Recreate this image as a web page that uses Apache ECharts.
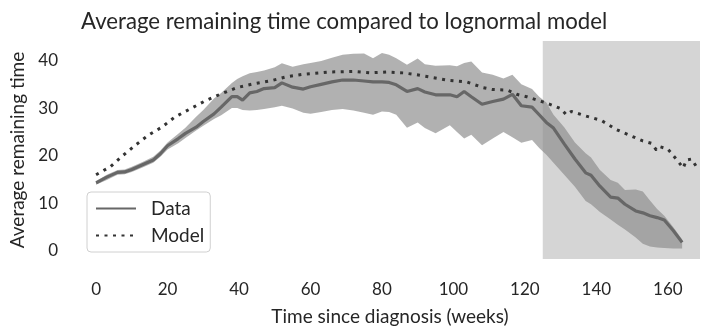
<!DOCTYPE html>
<html>
<head>
<meta charset="utf-8">
<script src="https://cdn.jsdelivr.net/npm/echarts@6/dist/echarts.min.js"></script>
<style>
html,body{margin:0;padding:0;background:#fff;}
#chart{width:705px;height:331px;}
</style>
</head>
<body>
<div id="chart"></div>
<script>
// ---- data ----
const weeks = [0,3,6,8,10,13,16,18,20,23,25,28,30,33,35,38,39.5,41,43,45,47,50,52,55,58,60,63,66,69,72,75,77.5,80,82,84,87,90,92,95,99,101,103,105,108,111,114,116.5,119,122,124,126,128,131,134,137,138.5,141,144,146,148,151,153,155,157,159,161.5,164];
const dataMean = [14.3,15.5,16.5,16.6,17.1,18.1,19.1,20.4,22.1,23.6,24.7,26.0,27.2,28.8,30.2,32.4,32.4,31.7,33.2,33.5,34.1,34.3,35.3,34.4,34.0,34.5,35.0,35.5,35.9,35.9,35.7,35.5,35.5,35.4,34.9,33.5,34.1,33.4,32.8,32.8,32.4,33.5,32.4,30.8,31.4,31.9,32.9,30.5,30.2,28.6,27.0,25.8,22.5,19.3,16.4,15.9,13.6,11.3,11.1,9.8,8.4,8.0,7.4,7.0,6.5,4.3,1.8];
const bandLow = [13.9,14.9,16.0,16.1,16.6,17.5,18.5,19.8,21.3,22.6,23.7,25.3,26.3,27.7,28.5,30.0,30.0,29.6,29.5,29.6,29.8,30.2,30.5,29.9,29.0,28.8,29.2,29.6,29.8,29.5,29.0,28.6,29.3,29.2,28.6,25.9,27.0,25.8,24.7,26.4,25.0,23.6,24.4,22.2,23.6,25.0,23.9,22.7,23.3,21.6,20.2,18.5,16.0,13.5,10.5,9.8,8.2,6.6,5.5,4.5,2.8,1.5,0.9,0.7,0.6,0.5,0.5];
const bandHigh = [14.7,16.0,17.0,17.1,17.7,18.7,19.8,21.1,22.8,24.6,25.9,28.2,29.6,32.0,33.2,35.3,36.1,36.7,37.3,37.6,37.9,38.6,39.4,38.7,39.2,39.5,39.9,40.6,41.2,41.4,41.5,40.5,41.6,41.2,40.5,39.1,40.4,39.2,38.9,39.0,38.8,39.5,39.8,37.5,37.0,36.2,37.0,35.0,34.0,32.4,31.2,28.6,26.0,22.8,20.5,19.6,17.0,14.9,14.3,12.8,12.9,12.5,10.6,8.8,7.4,5.0,2.4];
const modelWeeks = [0,4,7.6,11,14.6,18.4,22,26,30.5,34.7,39.4,44,48.7,53.3,58,62.7,65.4,72,76.6,81.3,86,90.6,94.4,99,103.7,108.3,111,115,117.7,120.5,125,127,130,131.6,133,136.8,141.4,145.6,149.3,153,155.4,156.8,157.7,160,162.9,164.3,165.2,166.6,168];
const modelValues = [16.0,17.7,20.1,22.2,24.3,26.0,28.1,29.7,31.5,32.9,34.3,35.1,35.7,36.6,37.1,37.4,37.6,37.7,37.4,37.6,37.4,36.9,36.4,35.8,35.5,34.3,33.9,33.8,32.9,32.4,31.3,30.8,29.9,28.6,29.3,28.4,27.4,25.5,24.3,23.1,22.6,21.2,21.9,21.4,18.8,17.4,19.1,19.3,17.7];
const xTicks = [0,20,40,60,80,100,120,140,160];
const yTicks = [0,10,20,30,40];
const shadeStart = 125;
const shadeEnd = 169;

const FONT = 'Lato';
const pair = (xs, ys) => xs.map((x, i) => [x, ys[i]]);

const chart = echarts.init(document.getElementById('chart'), null, {renderer: 'canvas'});
chart.setOption({
  animation: false,
  backgroundColor: '#ffffff',
  textStyle: {fontFamily: FONT, color: '#262626'},
  title: {
    text: 'Average remaining time compared to lognormal model',
    left: 76, top: 6,
    textStyle: {fontFamily: FONT, fontSize: 22.2, fontWeight: 'normal', color: '#262626'}
  },
  grid: {left: 80, right: 5, top: 41, bottom: 69},
  legend: {
    data: ['Data', 'Model'],
    orient: 'vertical',
    left: 87, top: 192,
    itemWidth: 40, itemHeight: 14, itemGap: 8,
    padding: [7, 6, 7, 8],
    backgroundColor: 'rgba(255,255,255,0.85)',
    borderColor: '#d0d0d0', borderWidth: 1, borderRadius: 4,
    itemStyle: {opacity: 0},
    textStyle: {fontFamily: FONT, fontSize: 19, color: '#262626', padding: [0, 0, 0, 10]}
  },
  xAxis: {
    type: 'value', min: -4.5, max: shadeEnd,
    name: 'Time since diagnosis (weeks)', nameLocation: 'middle', nameGap: 48,
    nameTextStyle: {fontFamily: FONT, fontSize: 19, color: '#262626'},
    axisLine: {show: false}, axisTick: {show: false}, splitLine: {show: false},
    axisLabel: {customValues: xTicks, fontFamily: FONT, fontSize: 17, color: '#262626', margin: 22}
  },
  yAxis: {
    type: 'value', min: -1.7, max: 44.1,
    name: 'Average remaining time', nameLocation: 'middle', nameGap: 53,
    nameTextStyle: {fontFamily: FONT, fontSize: 19, color: '#262626'},
    axisLine: {show: false}, axisTick: {show: false}, splitLine: {show: false},
    axisLabel: {customValues: yTicks, fontFamily: FONT, fontSize: 17, color: '#262626', margin: 22}
  },
  series: [
    {
      name: 'shade', type: 'line', data: [], z: 1, silent: true,
      markArea: {
        silent: true,
        itemStyle: {color: '#d5d5d5'},
        data: [[{xAxis: shadeStart}, {xAxis: shadeEnd}]]
      }
    },
    {
      name: 'band', type: 'custom', z: 2, silent: true,
      data: weeks.map((w, i) => [w, bandLow[i], bandHigh[i]]),
      encode: {x: 0, y: [1, 2]},
      renderItem: function (params, api) {
        if (params.dataIndex !== 0) return null;
        const pts = [];
        for (let i = 0; i < weeks.length; i++) pts.push(api.coord([weeks[i], bandHigh[i]]));
        for (let i = weeks.length - 1; i >= 0; i--) pts.push(api.coord([weeks[i], bandLow[i]]));
        return {
          type: 'polygon',
          shape: {points: pts},
          style: {fill: 'rgba(140,140,140,0.68)', stroke: 'none'}
        };
      }
    },
    {
      name: 'Data', type: 'line', z: 3,
      data: pair(weeks, dataMean), symbol: 'none',
      lineStyle: {color: '#676767', width: 3.2},
      itemStyle: {color: '#676767'}
    },
    {
      name: 'Model', type: 'line', z: 4,
      data: pair(modelWeeks, modelValues), symbol: 'none',
      lineStyle: {color: '#333333', width: 3, type: [3, 5.5], cap: 'butt'},
      itemStyle: {color: '#333333'}
    }
  ]
});
</script>
</body>
</html>
